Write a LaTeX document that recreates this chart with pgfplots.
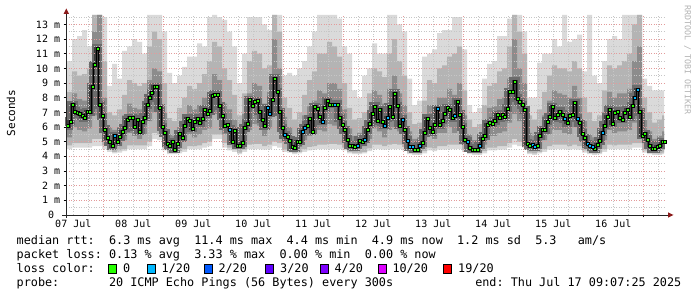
\documentclass[border=0pt]{standalone}
\usepackage{fontspec}
\setmainfont{DejaVu Sans Mono}
\usepackage{pgfplots}
\pgfplotsset{compat=1.18}
\usepackage{pgfplotstable}
\usepgfplotslibrary{fillbetween}
\tikzset{fill between/on layer=axis background}

\definecolor{lossa}{HTML}{26FF00}
\definecolor{lossb}{HTML}{00B8FF}
\definecolor{lossc}{HTML}{0059FF}
\definecolor{lossd}{HTML}{5E00FF}
\definecolor{losse}{HTML}{7E00FF}
\definecolor{lossf}{HTML}{DD00FF}
\definecolor{lossg}{HTML}{FF0000}
\definecolor{smokea}{HTML}{DADADA}
\definecolor{smokeb}{HTML}{B4B4B4}
\definecolor{smokec}{HTML}{8C8C8C}
\definecolor{corea}{HTML}{6C6C6C}
\definecolor{coreb}{HTML}{3C3C3C}
\definecolor{majgrid}{HTML}{E39B9B}
\definecolor{mingrid}{HTML}{C6C6C6}
\definecolor{arrowred}{HTML}{8B1A1A}

% smoke bands, x in graph pixels (1 day = 60 px, 07 Jul 09:07 at 66.1)
\pgfplotstableread{
x lo1 lo2 lo3 hi3 hi2 hi1
66.2 4.5 4.75 5.3 7.0 8.4 10.5
72 4.6 4.9 6.0 8.3 9.8 12.0
77 4.6 4.9 5.8 7.9 9.5 12.2
82 4.6 4.9 5.7 7.8 9.6 12.6
87 4.6 4.9 5.9 8.4 10.0 11.5
92 4.7 5.2 6.8 12.5 13.64 13.64
97 4.7 5.2 6.5 13.64 13.64 13.64
102 4.5 4.75 5.4 8.0 10.5 13.5
107 4.3 4.45 4.7 6.0 7.0 8.8
112 4.2 4.3 4.6 5.8 6.8 10.3
117 4.25 4.4 4.7 6.0 7.2 9.3
122 4.35 4.5 5.1 6.8 8.2 11.2
127 4.5 4.75 5.6 7.6 9.2 11.5
132 4.5 4.75 5.4 7.3 9.0 12.0
137 4.5 4.75 5.2 7.2 8.8 11.8
142 4.5 4.75 5.5 7.6 9.0 11.0
147 4.7 5.0 6.4 9.2 11.5 13.64
152 5.2 5.6 7.0 10.0 12.5 13.64
157 5.1 5.5 6.7 9.8 12.0 13.64
162 4.4 4.6 5.2 7.0 9.0 12.5
167 4.15 4.25 4.5 5.5 6.6 9.7
172 4.15 4.25 4.45 5.4 6.4 9.0
177 4.2 4.35 4.75 6.0 7.3 9.5
182 4.3 4.5 5.1 6.7 8.0 10.1
187 4.5 4.7 5.5 7.5 8.8 10.8
192 4.5 4.7 5.3 7.2 8.6 10.8
197 4.5 4.75 5.5 7.5 9.0 11.7
202 4.6 4.9 5.8 8.0 9.6 11.5
207 4.7 5.0 5.9 8.3 10.5 13.5
212 5.2 5.5 6.9 9.6 11.8 13.64
217 5.2 5.5 6.6 9.2 11.5 13.5
222 4.6 4.9 5.5 7.6 10.0 13.3
227 4.4 4.6 5.2 7.2 9.2 12.5
232 4.3 4.45 4.9 6.5 8.2 11.5
237 4.15 4.25 4.5 5.6 6.8 9.0
242 4.3 4.45 5.0 6.9 8.3 11.0
247 4.5 4.8 5.8 8.3 10.5 13.5
252 4.5 4.85 6.2 9.0 11.2 13.5
257 4.5 4.85 6.1 8.8 11.0 13.5
262 4.45 4.7 5.4 7.6 10.0 13.0
267 4.5 4.8 5.9 8.4 10.2 12.6
272 4.7 5.0 6.8 12.0 13.64 13.64
277 4.6 4.9 6.2 10.0 12.5 13.64
282 4.3 4.45 5.0 6.7 8.0 9.5
287 4.25 4.4 4.75 6.0 7.3 9.7
292 4.15 4.25 4.35 5.3 6.5 9.5
297 4.2 4.3 4.65 5.8 7.0 10.0
302 4.3 4.5 5.1 6.8 8.2 10.5
307 4.4 4.65 5.4 7.4 9.2 11.5
312 4.45 4.7 5.5 7.8 9.8 12.5
317 4.5 4.8 5.8 8.5 11.0 13.64
322 4.5 4.8 5.7 8.3 11.0 13.64
327 4.5 4.85 6.2 9.0 11.8 13.64
332 4.5 4.85 6.1 9.0 11.5 13.64
337 4.5 4.8 5.9 8.6 10.8 13.4
342 4.4 4.6 5.2 7.2 9.0 11.5
347 4.2 4.3 4.6 5.9 7.3 11.0
352 4.15 4.25 4.4 5.4 6.5 8.5
357 4.15 4.25 4.55 5.6 6.6 8.0
362 4.2 4.3 4.7 5.9 7.0 9.5
367 4.35 4.55 5.2 7.0 8.3 10.0
372 4.5 4.8 5.9 8.5 10.0 11.7
377 4.5 4.8 5.7 8.2 9.8 11.0
382 4.45 4.7 5.3 7.6 9.4 11.0
387 4.5 4.8 5.8 8.6 11.0 13.64
392 4.5 4.85 6.0 9.5 12.0 13.64
397 4.5 4.8 5.7 8.3 10.5 13.0
402 4.4 4.65 5.3 7.5 9.5 12.5
407 4.15 4.25 4.5 5.7 7.0 9.3
412 4.1 4.2 4.3 5.2 6.2 7.5
417 4.1 4.2 4.35 5.3 6.3 7.8
422 4.2 4.35 4.8 6.3 7.8 10.8
427 4.4 4.6 5.4 7.5 9.2 11.0
432 4.35 4.55 5.2 7.2 9.0 11.3
437 4.45 4.7 5.6 8.0 10.0 12.4
442 4.45 4.7 5.6 8.0 10.2 12.6
447 4.5 4.8 6.0 8.6 10.8 12.6
452 4.5 4.8 5.6 8.2 11.0 13.5
457 4.5 4.8 6.0 9.0 11.5 13.5
462 4.3 4.45 4.9 6.8 8.5 11.3
467 4.15 4.25 4.5 5.5 6.5 7.5
472 4.1 4.2 4.3 5.1 6.0 7.0
477 4.1 4.2 4.35 5.2 6.2 7.3
482 4.2 4.35 4.8 6.2 7.5 9.3
487 4.4 4.6 5.4 7.3 8.8 10.3
492 4.4 4.6 5.4 7.4 9.0 10.5
497 4.45 4.7 5.6 7.9 9.8 12.2
502 4.45 4.7 5.7 8.0 10.0 12.2
507 4.6 4.9 6.3 9.3 11.5 13.4
512 4.8 5.2 6.9 12.0 13.64 13.64
517 4.7 5.0 6.4 10.0 12.5 13.64
522 4.6 4.9 6.1 9.0 11.0 12.5
527 4.15 4.25 4.5 5.6 6.8 8.0
532 4.1 4.2 4.45 5.4 6.5 8.0
537 4.2 4.3 4.7 5.9 7.2 10.4
542 4.3 4.5 5.1 6.8 8.4 11.0
547 4.45 4.7 5.5 7.8 9.5 11.0
552 4.5 4.8 5.8 8.5 10.2 12.0
557 4.5 4.8 5.8 8.3 10.0 11.5
562 4.5 4.8 5.6 8.2 10.0 13.64
567 4.45 4.7 5.5 8.0 9.8 11.8
572 4.5 4.8 6.0 8.8 10.5 12.0
577 4.45 4.7 5.5 8.0 10.0 12.3
582 4.25 4.4 4.8 6.4 8.0 9.8
587 4.15 4.25 4.45 5.5 7.0 13.64
592 4.1 4.2 4.35 5.3 6.4 9.5
597 4.15 4.25 4.55 5.6 6.8 9.0
602 4.3 4.5 5.1 7.0 8.5 10.5
607 4.5 4.8 5.8 8.4 10.2 12.0
612 4.5 4.75 5.6 8.0 10.0 12.2
617 4.5 4.8 5.7 8.3 10.2 12.0
622 4.5 4.8 5.7 8.3 10.5 13.64
627 4.5 4.8 5.8 8.6 11.0 13.64
632 4.6 4.9 6.3 10.5 13.0 13.64
637 4.6 4.9 6.2 11.5 13.64 13.64
642 4.25 4.4 4.9 6.5 8.0 9.3
647 4.15 4.25 4.6 5.7 7.0 8.8
652 4.1 4.2 4.3 5.2 6.3 8.5
657 4.1 4.2 4.4 5.4 6.5 8.5
662 4.15 4.25 4.6 5.7 6.8 8.5
664 4.15 4.25 4.6 5.7 6.8 8.5
}\smoke

% median rtt (ms), one value per hour, x = left edge of the hour
\pgfplotstableread{
x y
66.8 6.07
69.0 6.39
71.4 7.52
73.8 7.07
76.0 6.95
78.4 6.89
81.0 6.75
83.4 6.64
86.0 7.05
88.4 7.03
91.0 8.75
93.4 10.23
96.0 11.36
98.4 7.52
101.0 6.75
103.4 5.84
106.0 5.25
108.4 4.98
111.0 4.70
113.4 5.39
116.0 4.98
118.4 5.34
121.0 5.68
123.4 5.96
126.0 6.48
128.4 6.64
131.0 6.61
133.4 6.03
136.0 6.52
138.4 5.71
141.0 6.39
143.4 6.66
146.0 7.52
148.4 7.98
150.8 8.34
153.1 8.75
155.8 8.75
158.4 7.32
161.0 6.03
163.4 5.62
166.0 4.89
168.4 4.70
171.0 5.00
173.4 4.48
176.0 4.84
178.4 5.55
181.0 5.28
183.4 6.11
186.0 6.59
188.4 6.46
191.0 5.91
193.4 6.37
196.0 6.59
198.4 6.30
201.0 6.59
203.4 7.21
206.0 6.89
208.4 7.09
211.0 8.11
213.4 8.23
216.0 8.23
218.4 7.43
221.0 6.75
223.4 6.07
226.0 6.18
228.4 5.84
231.0 5.02
233.4 5.75
236.0 4.75
238.4 4.75
241.0 4.93
243.4 5.93
246.0 6.25
248.4 7.84
251.0 7.48
253.4 7.75
256.0 7.80
258.4 7.07
261.0 6.52
263.4 6.09
266.0 7.29
268.4 6.93
271.0 7.84
273.4 9.32
276.0 8.41
278.4 7.05
281.0 5.96
283.4 5.48
286.0 5.32
288.4 5.09
291.0 4.64
293.4 4.57
296.0 4.98
298.4 5.02
301.0 5.68
303.4 5.96
306.0 6.11
308.4 6.57
311.0 5.71
313.4 7.39
316.0 7.25
318.4 6.71
321.0 6.39
323.4 7.29
326.0 7.77
328.4 7.55
331.0 7.55
333.4 7.55
336.0 7.55
338.4 6.61
341.0 6.16
343.4 5.80
346.0 5.16
348.4 4.75
351.0 4.70
353.4 4.64
356.0 4.75
358.4 5.09
361.0 4.98
363.4 5.16
366.0 5.80
368.4 6.20
371.0 6.91
373.4 7.41
376.0 6.43
378.4 7.16
381.0 6.34
383.4 6.11
386.0 6.61
388.4 7.39
391.0 6.71
393.4 8.30
396.0 7.43
398.4 6.11
401.0 6.52
403.4 5.80
406.0 5.09
408.4 4.64
411.0 4.64
413.4 4.48
416.0 4.48
418.4 4.75
421.0 4.93
423.4 5.62
426.0 6.59
428.4 5.96
431.0 5.66
433.4 6.16
436.0 7.25
438.4 6.16
441.0 6.46
443.4 6.91
446.0 7.32
448.4 7.21
451.0 6.61
453.4 6.75
456.0 7.70
458.4 6.86
461.0 6.03
463.4 5.11
466.0 5.02
468.4 4.59
471.0 4.48
473.4 4.48
476.0 4.48
478.4 4.75
481.0 5.23
483.4 5.39
486.0 6.18
488.4 6.30
491.0 6.25
493.4 6.41
496.0 6.84
498.4 6.61
501.0 6.86
503.4 6.71
506.0 7.27
508.4 8.41
511.0 8.41
513.4 9.11
516.0 7.95
518.4 7.70
521.0 7.52
523.4 7.16
526.0 4.89
528.4 4.70
531.0 4.82
533.4 4.64
536.0 4.75
538.4 5.39
541.0 5.80
543.4 5.80
546.0 6.39
548.4 6.71
551.0 7.39
553.4 6.61
556.0 6.86
558.4 7.07
561.0 6.86
563.4 6.55
566.0 6.30
568.4 6.80
571.0 6.84
573.4 7.66
576.0 6.59
578.4 6.30
581.0 5.57
583.4 5.25
586.0 4.87
588.4 4.75
591.0 4.64
593.4 4.53
596.0 4.77
598.4 5.07
601.0 5.64
603.4 6.11
606.0 6.71
608.4 7.21
611.0 6.25
613.4 6.98
616.0 7.07
618.4 6.61
621.0 6.52
623.4 6.98
626.0 7.16
628.4 6.68
631.0 7.43
633.4 8.02
636.0 8.57
638.4 7.02
641.0 5.43
643.4 5.55
646.0 5.16
648.4 4.75
651.0 4.53
653.4 4.53
656.0 4.64
658.4 4.75
661.0 4.98
663.5 4.98
}\median

% hours with 1/20 packet loss (same x convention)
\pgfplotstableread{
x y
113.4 5.39
228.4 5.84
266.0 7.29
268.4 6.93
283.4 5.48
301.0 5.68
303.4 5.96
321.0 6.39
333.4 7.55
356.0 4.75
363.4 5.16
383.4 6.11
386.0 6.61
401.0 6.52
406.0 5.09
408.4 4.64
411.0 4.64
418.4 4.75
436.0 7.25
453.4 6.75
466.0 5.02
478.4 4.75
531.0 4.82
533.4 4.64
563.4 6.55
576.0 6.59
586.0 4.87
588.4 4.75
591.0 4.64
601.0 5.64
633.4 8.02
636.0 8.57
}\lossone

\begin{document}
\begin{tikzpicture}
\path (0pt,0pt) rectangle (697pt,297pt);
\begin{axis}[
  set layers,
  at={(66.1pt,82pt)}, anchor=south west,
  scale only axis, width=600pt, height=200pt,
  xmin=66.1, xmax=666.1, ymin=0, ymax=13.64,
  axis line style={draw=none},
  tick align=outside, tick pos=left,
  major tick length=2.5pt, minor tick length=0pt,
  tick style={draw=black, line width=0.7pt},
  xtick={103.3,163.3,223.3,283.3,343.3,403.3,463.3,523.3,583.3,643.3},
  xticklabels={},
  extra x ticks={73.3,133.3,193.3,253.3,313.3,373.3,433.3,493.3,553.3,613.3},
  extra x tick labels={07 Jul,08 Jul,09 Jul,10 Jul,11 Jul,12 Jul,13 Jul,14 Jul,15 Jul,16 Jul},
  extra x tick style={grid=none, major tick length=0pt},
  xticklabel style={yshift=-1.5pt},
  minor xtick={73.3,88.3,118.3,133.3,148.3,178.3,193.3,208.3,238.3,253.3,268.3,298.3,313.3,328.3,358.3,373.3,388.3,418.3,433.3,448.3,478.3,493.3,508.3,538.3,553.3,568.3,598.3,613.3,628.3,658.3},
  ytick={0,1,...,13},
  yticklabels={0~~,1 m,2 m,3 m,4 m,5 m,6 m,7 m,8 m,9 m,10 m,11 m,12 m,13 m},
  minor ytick={0.5,1.5,...,13.5},
  xmajorgrids=true, ymajorgrids=true, xminorgrids=true, yminorgrids=true,
  major grid style={draw=majgrid, line width=0.6pt, dash pattern=on 1pt off 1.5pt},
  minor grid style={draw=mingrid, line width=0.6pt, dash pattern=on 1pt off 1.5pt},
  tick label style={font=\fontsize{10}{12}\selectfont, text=black},
]
\addplot[const plot, draw=none, name path=loA, forget plot] table[x=x,y=lo1]{\smoke};
\addplot[const plot, draw=none, name path=hiA, forget plot] table[x=x,y=hi1]{\smoke};
\addplot[const plot, draw=none, name path=loB, forget plot] table[x=x,y=lo2]{\smoke};
\addplot[const plot, draw=none, name path=hiB, forget plot] table[x=x,y=hi2]{\smoke};
\addplot[const plot, draw=none, name path=loC, forget plot] table[x=x,y=lo3]{\smoke};
\addplot[const plot, draw=none, name path=hiC, forget plot] table[x=x,y=hi3]{\smoke};
\addplot[fill=smokea, draw=none] fill between[of=loA and hiA];
\addplot[fill=smokeb, draw=none] fill between[of=loB and hiB];
\addplot[fill=smokec, draw=none] fill between[of=loC and hiC];
\addplot[on layer=axis background, const plot, no marks, color=corea, line width=8pt] table[x=x,y=y]{\median};
\addplot[on layer=axis background, const plot, no marks, color=coreb, line width=3.5pt] table[x=x,y=y]{\median};
\addplot[const plot, no marks, color=black, line width=0.9pt] table[x=x,y=y]{\median};
\addplot[only marks, mark=square*, mark size=1.45pt, mark options={draw=none, fill=lossa, xshift=1.25pt}] table[x=x,y=y]{\median};
\addplot[only marks, mark=square*, mark size=1.45pt, mark options={draw=none, fill=lossb, xshift=1.25pt}] table[x=x,y=y]{\lossone};
\end{axis}
% axis lines with arrow heads
\draw[line width=0.9pt, black!85] (62pt,82pt) -- (668pt,82pt);
\fill[arrowred] (668pt,79.3pt) -- (673.5pt,82pt) -- (668pt,84.7pt) -- cycle;
\draw[line width=0.9pt, black!85] (66.3pt,79pt) -- (66.3pt,283pt);
\fill[arrowred] (63.6pt,283pt) -- (66.3pt,288.5pt) -- (69pt,283pt) -- cycle;
% titles
\node[rotate=90, font=\fontsize{11}{13}\selectfont] at (11pt,184pt) {Seconds};
\node[rotate=-90, font=\fontsize{8.3}{10}\selectfont, text=black!30] at (687.5pt,237pt) {RRDTOOL~/~TOBI~OETIKER};
% legend
\begin{scope}[every node/.style={font=\fontsize{11.8}{14}\selectfont, inner sep=0pt, anchor=base west}]
\node at (16.5pt,52.5pt) {median~rtt:~~6.3~ms~avg~~11.4~ms~max~~4.4~ms~min~~4.9~ms~now~~1.2~ms~sd~~5.3~~~am/s};
\node at (16.5pt,38.5pt) {packet~loss:~0.13~\%~avg~~3.33~\%~max~~0.00~\%~min~~0.00~\%~now};
\node at (16.5pt,24.5pt) {loss~color:};
\draw[fill=lossa, line width=0.8pt] (108.5pt,24pt) rectangle ++(8pt,9pt);
\node at (122.8pt,24.5pt) {0};
\draw[fill=lossb, line width=0.8pt] (147pt,24pt) rectangle ++(8pt,9pt);
\node at (161.5pt,24.5pt) {1/20};
\draw[fill=lossc, line width=0.8pt] (204pt,24pt) rectangle ++(8pt,9pt);
\node at (218.3pt,24.5pt) {2/20};
\draw[fill=lossd, line width=0.8pt] (265.6pt,24pt) rectangle ++(8pt,9pt);
\node at (280pt,24.5pt) {3/20};
\draw[fill=losse, line width=0.8pt] (320pt,24pt) rectangle ++(8pt,9pt);
\node at (334.4pt,24.5pt) {4/20};
\draw[fill=lossf, line width=0.8pt] (378pt,24pt) rectangle ++(8pt,9pt);
\node at (392.3pt,24.5pt) {10/20};
\draw[fill=lossg, line width=0.8pt] (443.6pt,24pt) rectangle ++(8pt,9pt);
\node at (458pt,24.5pt) {19/20};
\node at (16.5pt,10.5pt) {probe:~~~~~~~20~ICMP~Echo~Pings~(56~Bytes)~every~300s};
\node[anchor=base east] at (681.5pt,10.5pt) {end:~Thu~Jul~17~09:07:25~2025};
\end{scope}
\end{tikzpicture}
\end{document}
